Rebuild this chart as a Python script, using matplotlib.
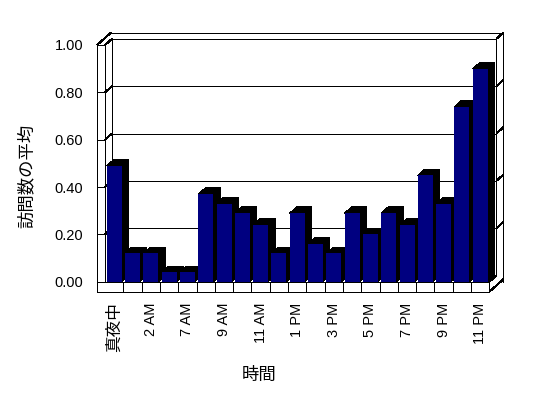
import numpy as np
import matplotlib
matplotlib.use("Agg")
import matplotlib.pyplot as plt
from matplotlib.patches import Polygon, Rectangle

plt.rcParams['font.family'] = ['Liberation Sans', 'Noto Sans CJK JP']
plt.rcParams['lines.antialiased'] = False
plt.rcParams['patch.antialiased'] = False

# data
hours = ['真夜中', '1 AM', '2 AM', '6 AM', '7 AM', '8 AM', '9 AM', '10 AM',
         '11 AM', '正午', '1 PM', '2 PM', '3 PM', '4 PM', '5 PM', '6 PM',
         '7 PM', '8 PM', '9 PM', '10 PM', '11 PM']
visits = [0.49, 0.12, 0.12, 0.04, 0.04, 0.37, 0.33, 0.29, 0.24, 0.12, 0.29,
          0.16, 0.12, 0.29, 0.20, 0.29, 0.24, 0.45, 0.33, 0.74, 0.90]
yticks = [0.0, 0.2, 0.4, 0.6, 0.8, 1.0]
xlabel = '時間'
ylabel = '訪問数の平均'

W, H = 548, 398
fig = plt.figure(figsize=(W / 100, H / 100), dpi=100)
fig.patch.set_facecolor('white')

# front plane of the 3d box, in pixels
px_left, px_right, px_bot, px_top = 97, 489.4, 281.7, 45
ax = fig.add_axes([px_left / W, 1 - px_bot / H,
                   (px_right - px_left) / W, (px_bot - px_top) / H])
xl, xi, x1 = -0.94, -0.5, 20.5
ax.set_xlim(xl, x1)
ax.set_ylim(0, 1)
ax.patch.set_visible(False)
for s in ax.spines.values():
    s.set_visible(False)

dx, dy = 0.38, 0.026   # depth step
f = 0.042              # floor thickness
lw = 0.72
k = dict(color='black', lw=lw, clip_on=False, solid_capstyle='butt')

# back wall
ax.add_patch(Rectangle((xi + dx, dy), x1 - xi, 1, facecolor='white',
                       edgecolor='black', lw=lw, clip_on=False, zorder=0))
for v in yticks[1:-1]:
    ax.plot([xi + dx, x1 + dx], [v + dy, v + dy], zorder=1, **k)
    ax.plot([xi, xi + dx], [v, v + dy], zorder=1, **k)
    ax.plot([x1 + dx, x1 + 2 * dx], [v + dy, v + 2 * dy], zorder=1, **k)

# outer frame of the walls
ax.plot([xl + 2 * dx, x1 + 2 * dx, x1 + 2 * dx], [1 + 2 * dy, 1 + 2 * dy, 0], zorder=1, **k)
ax.plot([xl, xl + 2 * dx], [1, 1 + 2 * dy], zorder=1, **k)
ax.plot([xi, xi + dx], [1, 1 + dy], zorder=1, **k)
ax.plot([x1 + dx, x1 + 2 * dx], [1 + dy, 1 + 2 * dy], zorder=1, **k)

# left wall
ax.plot([xl, xl], [1, -f], zorder=4, **k)
ax.plot([xi, xi], [1, 0], zorder=4, **k)
for v in yticks:
    ax.plot([xl, xi], [v, v], zorder=4, **k)

# floor lip
ax.plot([xl, x1, x1, xi], [-f, -f, 0, 0], zorder=4, **k)
ax.plot([x1, x1 + 2 * dx], [-f, -f + 2 * dy], zorder=4, **k)
ax.plot([x1, x1 + dx], [0, dy], zorder=1, **k)
for b in np.arange(len(hours) - 1) + 0.5:
    ax.plot([b, b], [-f, 0], zorder=4, **k)

# bars: black top/side, navy front
x = np.arange(len(hours))
w = 0.82
for xc, v in zip(x, visits):
    L, R = xc - w / 2, xc + w / 2
    ax.add_patch(Polygon([(L, v), (L + dx, v + dy), (R + dx, v + dy),
                          (R + dx, dy), (R, 0), (R, v)],
                         closed=True, facecolor='black', edgecolor='none',
                         clip_on=False, zorder=2))
ax.bar(x, visits, width=w, color='#000080', zorder=3, clip_on=False)

# ticks
ax.set_yticks(yticks)
ax.set_yticklabels([f'{v:.2f}' for v in yticks], fontsize=10.5)
ax.set_xticks(x[::2])
ax.set_xticklabels(hours[::2], rotation=90, fontsize=10.5)
ax.tick_params(axis='y', length=0, pad=10)
ax.tick_params(axis='x', length=0, pad=15)
ax.get_xticklabels()[0].set_fontsize(12)

fig.text(26.7 / W, 1 - 176 / H, ylabel, rotation=90, fontsize=12.5,
         ha='center', va='center')
fig.text(259 / W, 1 - 375 / H, xlabel, fontsize=12.5, ha='center', va='center')

fig.savefig('out.png', dpi=100)
